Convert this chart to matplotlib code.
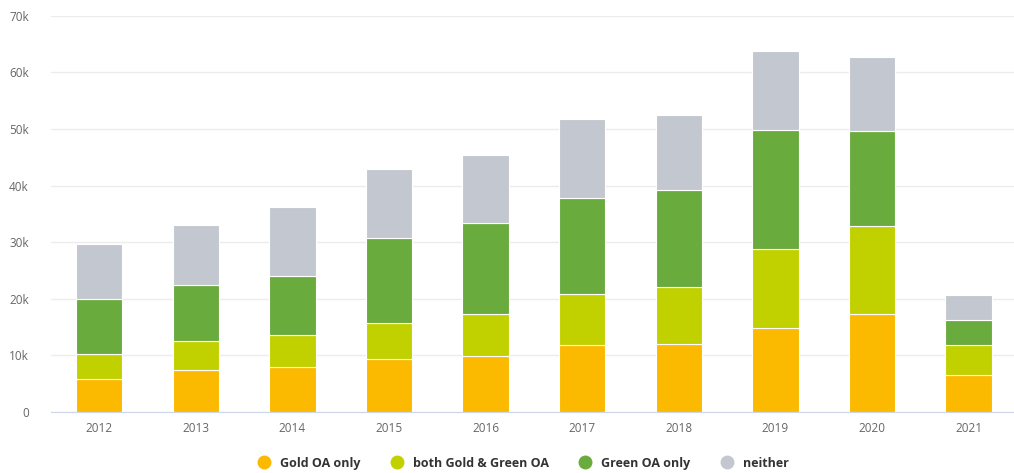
import matplotlib
matplotlib.use("Agg")
import matplotlib.pyplot as plt
from matplotlib.lines import Line2D
from matplotlib.ticker import FuncFormatter

years = ["2012", "2013", "2014", "2015", "2016", "2017", "2018", "2019", "2020", "2021"]
gold_only = [5900, 7500, 8000, 9300, 9900, 11800, 12000, 14800, 17300, 6500]
both = [4300, 5100, 5600, 6500, 7400, 9000, 10000, 14000, 15600, 5400]
green_only = [9700, 9800, 10400, 14900, 16000, 17000, 17200, 21000, 16800, 4400]
neither = [9700, 10600, 12200, 12200, 12100, 14000, 13300, 14000, 13000, 4300]

series_names = ["Gold OA only", "both Gold & Green OA", "Green OA only", "neither"]
series_vals = [gold_only, both, green_only, neither]
colors = ["#FBBA00", "#C1D100", "#6AAB3E", "#C3C8D0"]

plt.rcParams['font.family'] = ['Open Sans', 'DejaVu Sans']

fig = plt.figure(figsize=(10.14, 4.73), dpi=100)
ax = fig.add_axes([51 / 1014, 61 / 473, 963 / 1014, 396.3 / 473])

x = list(range(len(years)))
bottom = [0] * len(years)
for name, vals, c in zip(series_names, series_vals, colors):
    ax.bar(x, vals, width=0.48, bottom=bottom, color=c, edgecolor="#FFFFFF",
           linewidth=0.8, label=name, zorder=3)
    bottom = [b + v for b, v in zip(bottom, vals)]

ax.set_ylim(0, 70000)
ax.set_xlim(-0.5, 9.47)
ax.set_yticks(range(0, 70001, 10000))
ax.yaxis.set_major_formatter(FuncFormatter(lambda v, p: "0" if v == 0 else f"{int(v/1000)}k"))
ax.set_xticks(x)
ax.set_xticklabels(years)
ax.tick_params(axis="both", length=0, colors="#666666", labelsize=8.5)
ax.tick_params(axis="y", pad=16)
ax.tick_params(axis="x", pad=7)
ax.grid(axis="y", color="#ECECEC", linewidth=1, zorder=0)
for s in ["top", "right", "left"]:
    ax.spines[s].set_visible(False)
ax.spines["bottom"].set_color("#CCD6EB")
ax.spines["bottom"].set_zorder(4)

handles = [Line2D([0], [0], marker="o", linestyle="none", markersize=9,
                  markerfacecolor=c, markeredgecolor=c) for c in colors]
leg = fig.legend(handles, series_names, loc="center", bbox_to_anchor=(520 / 1014, 1 - 463 / 473),
                 ncol=4, frameon=False, handletextpad=0.3, columnspacing=1.9,
                 prop={"weight": "bold", "size": 9})
for t in leg.get_texts():
    t.set_color("#333333")

fig.savefig("out.png", dpi=100)
